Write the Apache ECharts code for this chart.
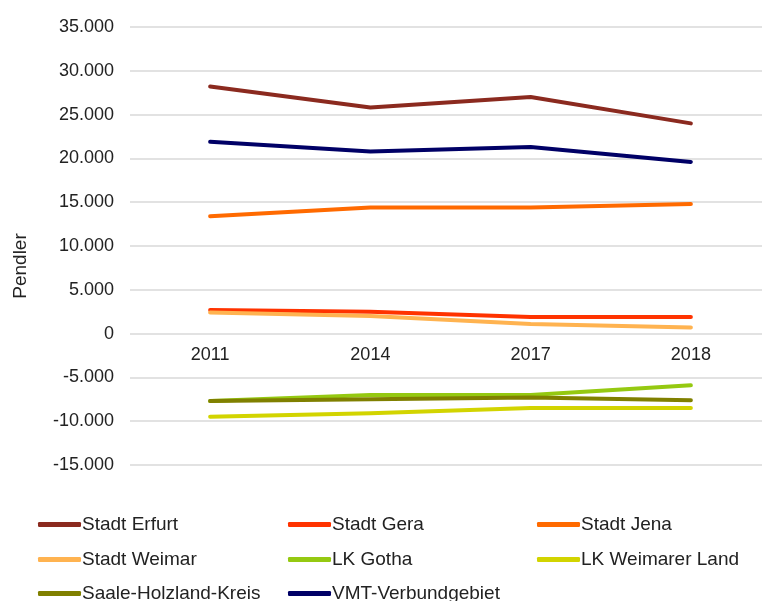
<!DOCTYPE html>
<html>
<head>
<meta charset="utf-8">
<title>Pendler</title>
<script src="https://cdn.jsdelivr.net/npm/echarts@6/dist/echarts.min.js"></script>
<style>
  html, body { margin: 0; padding: 0; background: #fff; }
  #main { width: 762px; height: 601px; }
</style>
</head>
<body>
<div id="main"></div>
<script>
// Jahre (Kategorien)
var years = ["2011", "2014", "2017", "2018"];

// Pendlersaldo je Gebiet
var stadtErfurt = [28200, 25800, 27000, 24000];
var stadtGera = [2700, 2500, 1900, 1900];
var stadtJena = [13400, 14400, 14400, 14800];
var stadtWeimar = [2400, 2000, 1100, 700];
var lkGotha = [-7700, -7000, -7000, -5900];
var lkWeimarerLand = [-9500, -9100, -8500, -8500];
var saaleHolzland = [-7700, -7500, -7300, -7600];
var vmtGebiet = [21900, 20800, 21300, 19600];

// Achse
var yMin = -15000;
var yMax = 35000;
var yStep = 5000;

var seriesDefs = [
  { name: "Stadt Erfurt", data: stadtErfurt, color: "#8b2a1f" },
  { name: "Stadt Gera", data: stadtGera, color: "#ff3300" },
  { name: "Stadt Jena", data: stadtJena, color: "#ff6a00" },
  { name: "Stadt Weimar", data: stadtWeimar, color: "#ffb350" },
  { name: "LK Gotha", data: lkGotha, color: "#95c911" },
  { name: "LK Weimarer Land", data: lkWeimarerLand, color: "#d2d400" },
  { name: "Saale-Holzland-Kreis", data: saaleHolzland, color: "#808000" },
  { name: "VMT-Verbundgebiet", data: vmtGebiet, color: "#000066" }
];

var font = "'Liberation Sans', Arial, sans-serif";

// Tausenderpunkt wie im Original
function fmt(v) {
  var s = String(Math.abs(v)).replace(/\B(?=(\d{3})+(?!\d))/g, ".");
  return (v < 0 ? "-" : "") + s;
}

// Legende: 3 Spalten, 3 Zeilen
var legendCols = [38, 288, 537];
var legendRows = [524, 559, 593];
var legends = seriesDefs.map(function (s, i) {
  return {
    data: [s.name],
    left: legendCols[i % 3],
    top: legendRows[Math.floor(i / 3)] - 9,
    padding: 0,
    icon: "roundRect",
    itemWidth: 43,
    itemHeight: 5,
    selectedMode: false,
    textStyle: { fontFamily: font, fontSize: 19, color: "#222", padding: [0, 0, 0, -4] }
  };
});

var myChart = echarts.init(document.getElementById("main"));
myChart.setOption({
  animation: false,
  backgroundColor: "#fff",
  grid: { left: 130, top: 27, width: 641, height: 438, outerBoundsMode: "none", containLabel: false },
  legend: legends,
  graphic: [{
    type: "text",
    x: 11,
    y: 266,
    rotation: Math.PI / 2,
    style: {
      text: "Pendler",
      fontFamily: font,
      fontSize: 19,
      fill: "#222",
      align: "center",
      verticalAlign: "top"
    }
  }],
  xAxis: {
    type: "category",
    data: years,
    position: "bottom",
    offset: -131, // Beschriftung an der Nulllinie
    axisLine: { show: false, onZero: false },
    axisTick: { show: false },
    axisLabel: { fontFamily: font, fontSize: 18, color: "#222", margin: 12 }
  },
  yAxis: {
    type: "value",
    min: yMin,
    max: yMax,
    interval: yStep,
    axisLine: { show: false },
    axisTick: { show: false },
    axisLabel: { fontFamily: font, fontSize: 18, color: "#222", margin: 16, formatter: fmt },
    splitLine: { lineStyle: { color: "#d9d9d9", width: 1.5 } }
  },
  series: seriesDefs.map(function (s) {
    return {
      name: s.name,
      type: "line",
      data: s.data,
      symbol: "none",
      color: s.color,
      lineStyle: { width: 4, color: s.color, cap: "round", join: "round" }
    };
  })
});
</script>
</body>
</html>
